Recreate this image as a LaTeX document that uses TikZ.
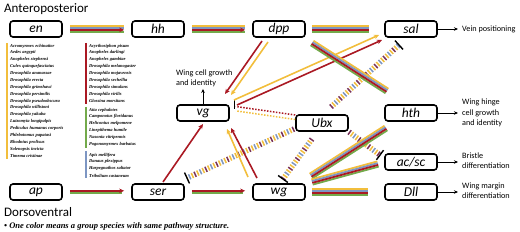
\documentclass[tikz,border=0pt]{standalone}
\usepackage{fontspec}
\setmainfont{Carlito}
\newfontfamily\spfont{Liberation Serif}
\usetikzlibrary{arrows.meta,positioning,calc}
\definecolor{cYel}{RGB}{242,190,60}
\definecolor{cBlu}{RGB}{125,150,195}
\definecolor{cGrn}{RGB}{115,170,75}
\definecolor{cRed}{RGB}{170,25,35}
\definecolor{cPur}{RGB}{120,50,90}
\tikzset{
  gene/.style={draw, line width=1.6pt, rounded corners=3pt, minimum width=52pt,
    minimum height=16pt, inner sep=0pt, font=\itshape\fontsize{13.5}{13.5}\selectfont},
  bundleline/.style={line width=1.8pt},
  pairline/.style={line width=1.6pt},
  ctip/.style={-{Stealth[length=5pt,width=4.5pt]}},
  hatch/.style={line width=5.5pt, draw=cPur, dash pattern=on 1.5pt off 10.5pt,
    postaction={draw=cYel, dash pattern=on 1.5pt off 10.5pt, dash phase=3pt},
    postaction={draw=cBlu, dash pattern=on 1.5pt off 10.5pt, dash phase=6pt},
    postaction={draw=cYel, dash pattern=on 1.5pt off 10.5pt, dash phase=9pt}},
  dotline/.style={line width=1.5pt, dash pattern=on 1.5pt off 1.5pt},
  inh/.style={line width=1.4pt},
  outarr/.style={-{Stealth[length=4pt,width=3.5pt]}, line width=0.6pt},
  outlbl/.style={anchor=west, align=left, inner sep=0pt, font=\fontsize{8.2}{10.5}\selectfont},
  species/.style={anchor=west, inner sep=0pt, font=\spfont\bfseries\itshape\fontsize{4.5}{5}\selectfont},
}
% four coloured lines side by side, #4 goes to the red one only
\newcommand{\bundle}[4][]{%
  \foreach \c/\o in {cYel/2.7pt, cBlu/0.9pt, cGrn/-2.7pt}
    \draw[bundleline, draw=\c, #1] ($(#2)!\o!90:(#3)$) -- ($(#3)!\o!-90:(#2)$);
  \draw[bundleline, draw=cRed, #1, #4] ($(#2)!-0.9pt!90:(#3)$) -- ($(#3)!-0.9pt!-90:(#2)$);
}
% striped line that ends in a bar
\newcommand{\hatchline}[2]{%
  \draw[hatch] (#1) -- (#2);
  \draw[inh] ($(#2)!6pt!90:(#1)$) -- ($(#2)!6pt!-90:(#1)$);
}
\begin{document}
\begin{tikzpicture}[x=1pt, y=-1pt]
  \useasboundingbox (0,0) rectangle (520,232);
  % Headings
  \node[anchor=west, inner sep=0pt, font=\fontsize{13}{13}\selectfont] (ap-title) at (4,9) {Anteroposterior};
  \node[anchor=west, inner sep=0pt, font=\fontsize{13}{13}\selectfont] (dv-title) at (4,212) {Dorsoventral};
  \node[anchor=west, inner sep=0pt, font=\spfont\bfseries\itshape\fontsize{8.5}{9}\selectfont] (note) at (4,226)
    {• One color means a group species with same pathway structure.};
  % Genes
  \node[gene] (en) at (36,29) {en};
  \node[gene] (hh) at (158,29) {hh};
  \node[gene] (dpp) at (279,29) {dpp};
  \node[gene] (sal) at (411,29) {sal};
  \node[gene] (vg) at (203,113) {vg};
  \node[gene] (ubx) at (322,123) {Ubx};
  \node[gene] (hth) at (411,113) {hth};
  \node[gene] (acsc) at (411,162) {ac/sc};
  \node[gene] (dll) at (411,192) {Dll};
  \node[gene] (ap) at (36,192) {ap};
  \node[gene] (ser) at (158,192) {ser};
  \node[gene] (wg) at (279,192) {wg};
  % Outcomes
  \node[outlbl] (vg-out) at (176,78.5) {Wing cell growth\\and identity};
  \node[outlbl] (sal-out) at (462,29) {Vein positioning};
  \node[outlbl] (hth-out) at (462,113) {Wing hinge\\cell growth\\and identity};
  \node[outlbl] (acsc-out) at (462,160.5) {Bristle\\differentiation};
  \node[outlbl] (dll-out) at (462,190.5) {Wing margin\\differentiation};
  \draw[outarr, shorten >=1.5pt] (vg.north) -- (vg.north |- vg-out.south);
  \draw[outarr, shorten >=4pt] (sal.east) -- (sal-out.west);
  \draw[outarr, shorten >=4pt] (hth.east) -- (hth.east -| hth-out.west);
  \draw[outarr, shorten >=4pt] (acsc.east) -- (acsc.east -| acsc-out.west);
  \draw[outarr, shorten >=4pt] (dll.east) -- (dll.east -| dll-out.west);
  % Species groups
  \draw[cYel, line width=1.5pt] (7,43) -- (7,159);
  \foreach \s [count=\i from 0] in {Acromyrmex echinatior, Aedes aegypti, Anopheles stephensi,
      Culex quinquefasciatus, Drosophila ananassae, Drosophila erecta, Drosophila grimshawi,
      Drosophila persimilis, Drosophila pseudoobscura, Drosophila willistoni, Drosophila yakuba,
      Lutzomyia longipalpis, Pediculus humanus corporis, Phlebotomus papatasi, Rhodnius prolixus,
      Solenopsis invicta, Timema cristinae}
    \node[species] (spy\i) at (10,46+6.875*\i) {\s};
  \draw[cRed, line width=1.5pt] (86,43) -- (86,104);
  \foreach \s [count=\i from 0] in {Acyrthosiphon pisum, Anopheles darlingi, Anopheles gambiae,
      Drosophila melanogaster, Drosophila mojavensis, Drosophila sechellia, Drosophila simulans,
      Drosophila virilis, Glossina morsitans}
    \node[species] (spr\i) at (89,46+6.875*\i) {\s};
  \draw[cGrn, line width=1.5pt] (86,107) -- (86,148);
  \foreach \s [count=\i from 0] in {Atta cephalotes, Camponotus floridanus, Heliconius melpomene,
      Linepithema humile, Nasonia vitripennis, Pogonomyrmex barbatus}
    \node[species] (spg\i) at (89,110+6.875*\i) {\s};
  \draw[cBlu, line width=1.5pt] (86,151) -- (86,178);
  \foreach \s [count=\i from 0] in {Apis mellifera, Danaus plexippus, Harpegnathos saltator,
      Tribolium castaneum}
    \node[species] (spb\i) at (89,155+6.875*\i) {\s};
  % Ends of the slanted connectors
  \coordinate (dh1) at (312,43);  \coordinate (dh2) at (387,91);
  \coordinate (wh1) at (311,176); \coordinate (wh2) at (386,128);
  \coordinate (wa1) at (312,182); \coordinate (wa2) at (378,164);
  \coordinate (hs1) at (331,107); \coordinate (hs2) at (399,45);
  \coordinate (hr1) at (294,129); \coordinate (hr2) at (187,178);
  \coordinate (hw1) at (312,139); \coordinate (hw2) at (283,179);
  \coordinate (ha1) at (349,132); \coordinate (ha2) at (380,155);
  % Hatched repressions from Ubx
  \hatchline{hr1}{hr2}
  \hatchline{hw1}{hw2}
  \hatchline{ha1}{ha2}
  \hatchline{hs1}{hs2}
  % Ubx represses vg
  \draw[dotline, cRed] ($(ubx.west)+(0,-8)$) -- ($(vg.east)+(6,-6.5)$);
  \draw[dotline, cYel] ($(ubx.west)+(0,-3.5)$) -- ($(vg.east)+(7,-2)$);
  \draw[inh] ($(vg.east)+(4.5,-13)$) -- ($(vg.east)+(4.5,-3.5)$);
  % Red and yellow activations
  \draw[pairline, cYel, ctip] (268,42) -- (231,95);
  \draw[pairline, cRed, ctip] (262,41) -- (225,94);
  \draw[pairline, cYel, ctip] (234,100) -- (379,35);
  \draw[pairline, cRed, ctip] (237,105) -- (382,40);
  \draw[pairline, cYel, ctip] (248,177) -- (227,129);
  \draw[pairline, cRed, ctip] (257,178) -- (231,128);
  \draw[pairline, cRed, ctip] (163,182) -- (203,124);
  % Coloured bundles
  \bundle[shorten <=7pt, shorten >=7pt]{en.east}{hh.west}{ctip}
  \bundle[shorten <=7pt, shorten >=7pt]{hh.east}{dpp.west}{ctip}
  \bundle[shorten <=6pt, shorten >=15pt]{dpp.east}{sal.west}{}
  \bundle{dh1}{dh2}{}
  \bundle{wh1}{wh2}{}
  \bundle{wa1}{wa2}{}
  \bundle[shorten <=6pt, shorten >=16pt]{wg.east}{dll.west}{}
  % Dorsoventral pairs
  \draw[pairline, cGrn] ($(ap.east)+(7,1.2)$) -- ($(ser.west)+(-9,1.2)$);
  \draw[pairline, cRed, ctip] ($(ap.east)+(7,-1.2)$) -- ($(ser.west)+(-7,-1.2)$);
  \draw[pairline, cGrn] ($(ser.east)+(7,1.2)$) -- ($(wg.west)+(-9,1.2)$);
  \draw[pairline, cRed, ctip] ($(ser.east)+(7,-1.2)$) -- ($(wg.west)+(-7,-1.2)$);
\end{tikzpicture}
\end{document}
